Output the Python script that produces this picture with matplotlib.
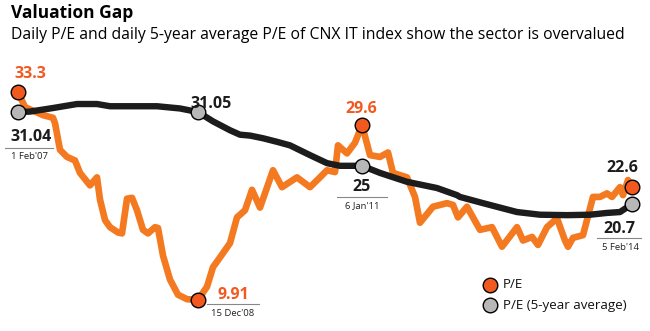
import matplotlib
matplotlib.use("Agg")
import matplotlib.pyplot as plt
from matplotlib.lines import Line2D

plt.rcParams['font.family'] = ['Open Sans', 'DejaVu Sans']

# Time index of each sample (Feb 2007 .. Feb 2014) and the daily P/E of the CNX IT index
pe_t = [18, 25, 43, 53, 55, 60, 67, 75, 80, 90, 97, 100, 105, 110, 118, 122, 127, 132,
        137, 143, 148, 155, 158, 163, 170, 178, 187, 198, 207, 213, 220, 230, 237, 245,
        252, 260, 273, 282, 297, 310, 320, 327, 335, 338, 347, 355, 362, 370, 380, 388,
        393, 407, 415, 420, 433, 447, 453, 458, 467, 480, 492, 502, 517, 523, 532, 538,
        547, 557, 565, 568, 573, 583, 593, 600, 607, 612, 620, 623, 628, 632]
pe = [33.3, 31.6, 30.7, 30.4, 29.8, 26.8, 26.0, 25.6, 24.2, 22.8, 23.7, 21.2, 18.9, 18.1,
      17.5, 17.4, 21.3, 21.4, 20.0, 17.8, 17.4, 18.1, 18.0, 14.9, 12.2, 10.5, 10.0, 9.91,
      11.4, 13.6, 14.7, 16.3, 19.2, 20.0, 22.3, 20.3, 24.5, 22.6, 23.7, 22.6, 23.7, 24.5,
      24.3, 27.3, 26.4, 27.6, 29.6, 26.2, 26.0, 26.5, 24.2, 23.7, 21.5, 18.6, 20.4, 20.8,
      20.6, 19.2, 20.4, 17.8, 18.1, 15.9, 18.1, 16.6, 17.0, 16.1, 18.1, 19.1, 16.6, 15.9,
      16.9, 17.2, 21.5, 21.5, 21.9, 21.5, 22.6, 21.7, 23.4, 22.6]

# Daily 5-year average P/E
avg_t = [18, 30, 53, 77, 97, 110, 157, 180, 198, 213, 230, 240, 250, 263, 277, 290,
         310, 327, 340, 362, 380, 407, 437, 457, 460, 483, 500, 517, 540, 567, 590,
         607, 620, 632]
avg = [31.04, 31.1, 31.5, 31.95, 31.95, 31.7, 31.7, 31.45, 31.05, 30.0, 29.0, 28.5,
       28.4, 28.1, 27.7, 27.3, 26.2, 25.3, 25.0, 25.0, 24.2, 23.2, 22.5, 21.7, 21.5, 20.8,
       20.3, 19.8, 19.5, 19.45, 19.5, 19.7, 19.8, 20.7]

# Highlighted observations
pe_marks = [(18, 33.3), (198, 9.91), (362, 29.6), (632, 22.6)]
avg_marks = [(18, 31.04), (198, 31.05), (362, 25.0), (632, 20.7)]
dates = ["1 Feb'07", "15 Dec'08", "6 Jan'11", "5 Feb'14"]

ORANGE_LINE = "#F47A22"
ORANGE_DOT = "#F2591F"
DARK = "#1c1c1c"
GREY = "#b7b7b7"

fig = plt.figure(figsize=(6.5, 3.31), dpi=100)
ax = fig.add_axes([0, 0, 1, 1])
ax.set_xlim(0, 650)
ax.set_ylim(6.42, 43.65)
ax.axis("off")

ax.plot(pe_t, pe, color=ORANGE_LINE, lw=4.8, solid_joinstyle="round",
        solid_capstyle="round", zorder=2)
ax.plot(avg_t, avg, color=DARK, lw=4.6, solid_joinstyle="round",
        solid_capstyle="round", zorder=3)

for t, v in pe_marks:
    ax.plot(t, v, "o", ms=10.5, mfc=ORANGE_DOT, mec="black", mew=1.0, zorder=5)
for t, v in avg_marks:
    ax.plot(t, v, "o", ms=10.5, mfc=GREY, mec="black", mew=1.0, zorder=5)

# figure-space helpers (pixels from top-left)
W, H = 650, 331
def ftxt(x, y, s, **kw):
    fig.text(x / W, 1 - y / H, s, **kw)

def fline(x0, x1, y):
    fig.add_artist(Line2D([x0 / W, x1 / W], [1 - y / H, 1 - y / H],
                          color="#888888", lw=0.8, transform=fig.transFigure))

ftxt(11, 13, "Valuation Gap", fontsize=12.5, fontweight="bold", va="center", ha="left")
ftxt(11, 35, "Daily P/E and daily 5-year average P/E of CNX IT index show the sector is overvalued",
     fontsize=11.3, va="center", ha="left")

big = dict(fontsize=11.5, fontweight="bold", va="center", ha="center")
small = dict(fontsize=6.8, va="center", ha="center", color="#222222")

# start
ftxt(30, 74, "33.3", color=ORANGE_DOT, **big)
ftxt(31, 137, "31.04", color=DARK, **big)
fline(5, 53, 148)
ftxt(29, 157, dates[0], **small)

# trough
ftxt(211, 104, "31.05", color=DARK, **big)
ftxt(233, 295, "9.91", color=ORANGE_DOT, **big)
fline(207, 259, 304)
ftxt(233, 313, dates[1], **small)

# 2011
ftxt(361, 109, "29.6", color=ORANGE_DOT, **big)
ftxt(362, 187, "25", color=DARK, **big)
fline(337, 387, 197)
ftxt(362, 206, dates[2], **small)

# end
ftxt(622, 168, "22.6", color=DARK, **big)
ftxt(619, 229, "20.7", color=DARK, **big)
fline(597, 641, 238)
ftxt(620, 247, dates[3], **small)

# legend
for y, fc, lab in [(285, ORANGE_DOT, "P/E"), (305, GREY, "P/E (5-year average)")]:
    fig.add_artist(Line2D([490 / W], [1 - y / H], marker="o", ms=10.5, mfc=fc,
                          mec="black", mew=1.0, transform=fig.transFigure))
    ftxt(503, y, lab, fontsize=9.6, va="center", ha="left", color="#111111")

fig.savefig("out.png", dpi=100)
